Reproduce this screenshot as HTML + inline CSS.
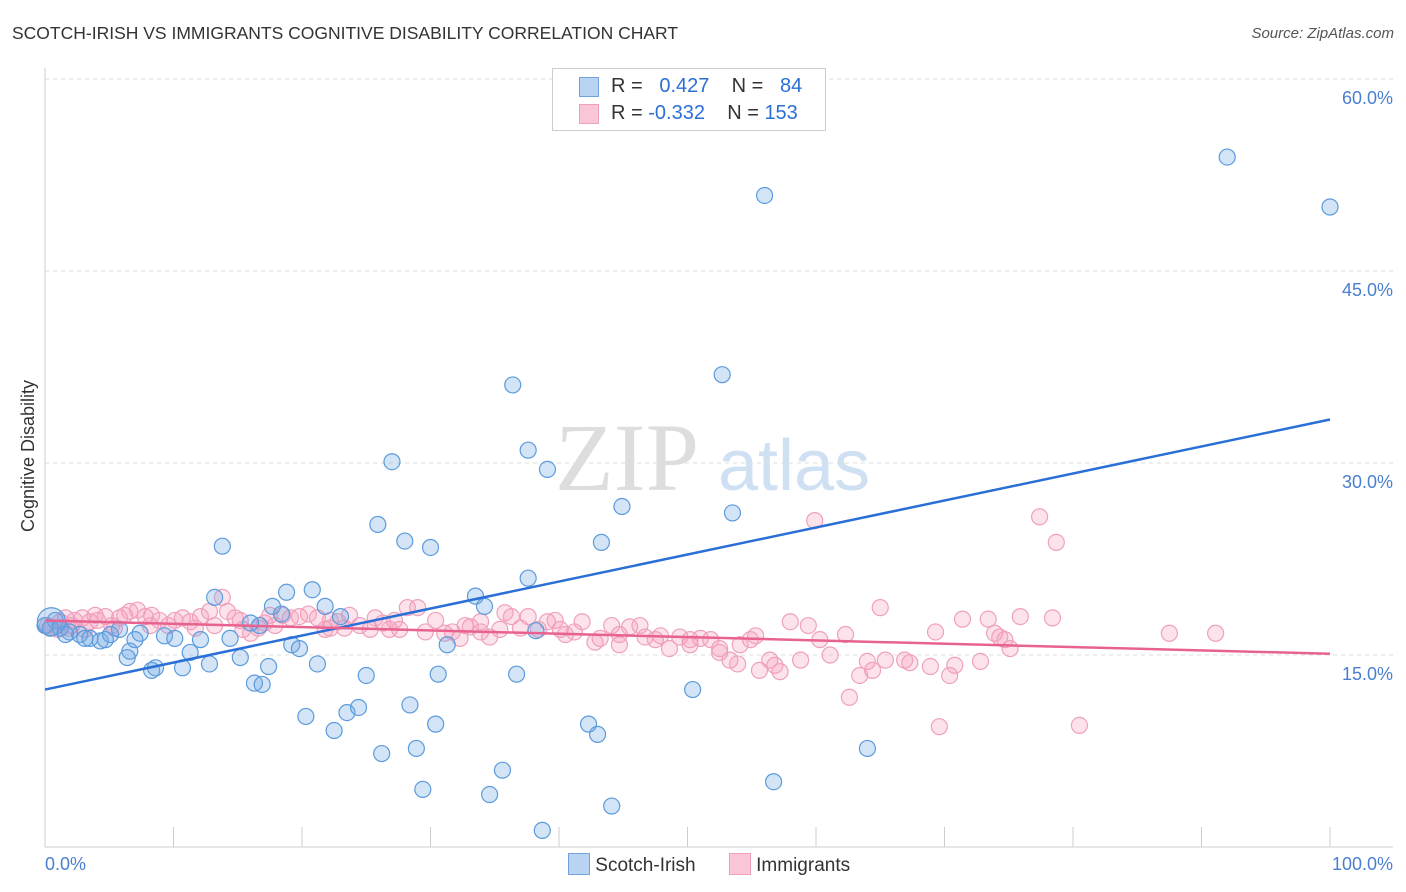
<!DOCTYPE html>
<html><head><meta charset="utf-8">
<style>
body{margin:0;background:#fff;font-family:"Liberation Sans",sans-serif;}
#wrap{position:relative;width:1406px;height:892px;overflow:hidden;}
.t{position:absolute;white-space:nowrap;}
</style></head><body>
<div id="wrap">
<div class="t" style="left:12px;top:23px;font-size:17.5px;color:#333;">SCOTCH-IRISH VS IMMIGRANTS COGNITIVE DISABILITY CORRELATION CHART</div>
<div class="t" style="right:12px;top:25px;font-size:15px;color:#555;font-style:italic;">Source: ZipAtlas.com</div>
<svg id="svg" width="1406" height="892" style="position:absolute;left:0;top:0"></svg>
</div>
<script>
const yTicks=[15,30,45,60];
const yTickLabels=["15.0%","30.0%","45.0%","60.0%"];
const xTickLabels=["0.0%","100.0%"];
const blueX=[92.0,100,56.0,52.7,36.4,37.6,39.1,27.0,44.9,53.5,25.9,28.0,30.0,43.3,13.8,37.6,33.5,34.2,13.2,18.8,20.8,17.7,21.8,18.4,23.0,0.8,0.4,1.2,1.9,2.7,3.5,4.3,5.1,5.8,7.4,9.3,10.1,12.1,14.4,16.7,16.0,19.2,19.8,11.3,6.6,6.4,8.6,8.3,10.7,12.8,15.2,17.4,21.2,31.3,38.2,25.0,30.6,36.7,16.3,16.9,50.4,20.3,23.5,24.4,28.4,30.4,22.5,42.3,43.0,28.9,26.2,64.0,35.6,56.7,29.4,34.6,44.1,38.7,0,1.6,3.1,4.7,7.0,0.5];
const blueY=[53.9,50.0,50.9,36.9,36.1,31.0,29.5,30.1,26.6,26.1,25.2,23.9,23.4,23.8,23.5,21.0,19.6,18.8,19.5,19.9,20.1,18.8,18.8,18.2,18.0,17.7,17.1,17.1,16.8,16.6,16.3,16.1,16.6,17.0,16.7,16.5,16.3,16.2,16.3,17.3,17.5,15.8,15.5,15.2,15.3,14.8,14.0,13.8,14.0,14.3,14.8,14.1,14.3,15.8,16.9,13.4,13.5,13.5,12.8,12.7,12.3,10.2,10.5,10.9,11.1,9.6,9.1,9.6,8.8,7.7,7.3,7.7,6.0,5.1,4.5,4.1,3.2,1.3,17.3,16.6,16.3,16.2,16.2,17.6];
const pinkX=[59.9,77.4,78.7,65.0,75.9,78.4,87.5,91.1,71.4,73.4,69.3,73.9,74.3,74.7,75.1,72.8,70.8,70.4,68.9,66.9,67.3,65.4,64.0,64.4,63.4,62.6,69.6,80.5,62.3,61.1,60.3,59.4,58.8,58.0,56.8,56.4,55.6,57.2,54.9,55.3,54.1,53.3,53.9,52.5,51.8,51.0,50.2,49.4,48.6,47.9,47.5,46.7,46.3,45.5,44.7,44.1,43.2,42.8,41.8,41.2,40.5,39.7,39.1,38.4,37.6,37.0,36.3,35.8,35.4,34.6,33.9,33.1,32.3,31.7,31.1,30.4,29.6,29.0,28.2,27.6,26.8,26.3,25.7,25.3,24.5,23.7,23.3,22.8,22.2,21.8,21.2,20.5,19.8,19.1,18.5,17.9,17.1,16.6,16.0,15.4,14.8,14.2,13.8,13.2,12.8,12.1,11.3,10.7,10.1,9.6,8.9,8.3,7.8,7.2,6.6,5.8,5.2,4.7,4.1,3.5,2.9,2.3,1.8,1.2,0.5,0.2,1.0,1.6,2.1,3.1,3.9,5.4,6.2,8.2,11.7,15.2,17.5,22.2,33.9,40.1,44.7,50.2,52.5,32.7,27.2];
const pinkY=[25.5,25.8,23.8,18.7,18.0,17.9,16.7,16.7,17.8,17.8,16.8,16.7,16.4,16.2,15.5,14.5,14.2,13.4,14.1,14.6,14.4,14.6,14.5,13.8,13.4,11.7,9.4,9.5,16.6,15.0,16.2,17.3,14.6,17.6,14.2,14.6,13.8,13.7,16.2,16.5,15.8,14.6,14.3,15.5,16.2,16.3,15.8,16.4,15.5,16.5,16.2,16.4,17.3,17.2,16.6,17.3,16.3,16.0,17.6,16.8,16.6,17.7,17.6,17.0,18.0,17.1,18.0,18.3,17.0,16.4,16.8,17.2,16.3,16.8,16.7,17.7,16.8,18.7,18.7,17.0,17.0,17.5,17.9,17.0,17.3,18.1,17.1,17.6,17.7,17.0,17.9,18.2,18.0,17.9,18.1,17.3,17.5,17.1,16.7,17.0,17.9,18.4,19.5,17.3,18.4,18.0,17.6,17.9,17.7,17.3,17.7,18.1,18.0,18.5,18.4,17.9,17.3,18.0,17.7,17.6,17.9,17.7,17.1,17.6,17.1,17.3,17.0,17.9,17.3,17.0,18.1,17.1,18.1,17.3,17.1,17.7,18.1,17.1,17.6,17.0,15.8,16.2,15.2,17.3,17.7];
const blueTrend=[12.3,33.4];
const pinkTrend=[17.7,15.1];

const NS="http://www.w3.org/2000/svg",svg=document.getElementById('svg');
const X0=45,X1=1330,YB=847,PX=12.8;
const xs=v=>X0+(X1-X0)*v/100, ys=v=>YB-v*PX;
function mk(t,a){const e=document.createElementNS(NS,t);for(const k in a)e.setAttribute(k,a[k]);svg.appendChild(e);return e;}
let w=mk('text',{x:555,y:490,'font-size':96,'font-family':'Liberation Serif',fill:'#ddd'});w.textContent='ZIP';


let w2=mk('text',{x:718,y:490,'font-size':72,'font-family':'Liberation Sans',fill:'#cfe0f3'});w2.textContent='atlas';


yTicks.forEach((v,i)=>{
 const g=mk('line',{x1:X0,x2:1393,y1:ys(v),y2:ys(v),stroke:'#ddd','stroke-dasharray':'4,4'});
 
 
 const t=mk('text',{x:1393,y:ys(v)+25,'text-anchor':'end','font-size':18,fill:'#4a7fd0'});t.textContent=yTickLabels[i];
 
 
});
let ax=mk('line',{x1:X0,x2:X0,y1:68,y2:YB,stroke:'#ccc'});


let bx=mk('line',{x1:X0,x2:1393,y1:YB,y2:YB,stroke:'#ccc'});


for(let i=0;i<=10;i++){const tk=mk('line',{x1:xs(i*10),x2:xs(i*10),y1:YB-20,y2:YB,stroke:'#ccc'});
 
 }
[[0,'start',45],[1,'end',1393]].forEach(([i,a,x])=>{const t=mk('text',{x:x,y:870,'text-anchor':a,'font-size':18,fill:'#4a7fd0'});t.textContent=xTickLabels[i];
 
 });
let yt=mk('text',{x:34,y:456,transform:'rotate(-90 34 456)','text-anchor':'middle','font-size':18,fill:'#333'});yt.textContent='Cognitive Disability';


pinkX.forEach((x,i)=>{const c=mk('circle',{cx:xs(x),cy:ys(pinkY[i]),r:8,fill:'rgba(244,160,190,0.3)',stroke:'#f0a0bc','stroke-width':1.2});
 
 });
blueX.forEach((x,i)=>{const c=mk('circle',{cx:xs(x),cy:ys(blueY[i]),r:(i==blueX.length-1?14:8),fill:'rgba(110,165,230,0.3)',stroke:'#5b9bdc','stroke-width':1.2});
 
 });
let tb=mk('line',{x1:xs(0),x2:xs(100),y1:ys(blueTrend[0]),y2:ys(blueTrend[1]),stroke:'#2a6fd6','stroke-width':2.5});


let tp=mk('line',{x1:xs(0),x2:xs(100),y1:ys(pinkTrend[0]),y2:ys(pinkTrend[1]),stroke:'#e8628f','stroke-width':2.5});


</script>
<div class="t" style="left:552px;top:68px;width:272px;height:61px;border:1px solid #ccc;background:#fff;font-size:20px;color:#333;">
 <div style="position:absolute;left:26px;top:8px;width:18px;height:18px;background:#b9d3f3;border:1px solid #6fa3e0"></div>
 <div style="position:absolute;left:58px;top:6px">R = &nbsp;<span style="color:#2a6fd6">&nbsp;0.427</span>&nbsp;&nbsp;&nbsp; N = &nbsp;<span style="color:#2a6fd6">&nbsp;84</span></div>
 <div style="position:absolute;left:26px;top:35px;width:18px;height:18px;background:#f8c6d6;border:1px solid #f0a0bc"></div>
 <div style="position:absolute;left:58px;top:33px">R = <span style="color:#2a6fd6">-0.332</span>&nbsp;&nbsp;&nbsp; N = <span style="color:#2a6fd6">153</span></div>
</div>
<div class="t" style="left:568px;top:853px;font-size:19px;color:#333;">
 <span><span style="display:inline-block;width:20px;height:20px;background:#b9d3f3;border:1px solid #6fa3e0;vertical-align:-4px"></span> Scotch-Irish</span>
 <span style="margin-left:28px"><span style="display:inline-block;width:20px;height:20px;background:#f8c6d6;border:1px solid #f0a0bc;vertical-align:-4px"></span> Immigrants</span>
</div>
</body></html>
